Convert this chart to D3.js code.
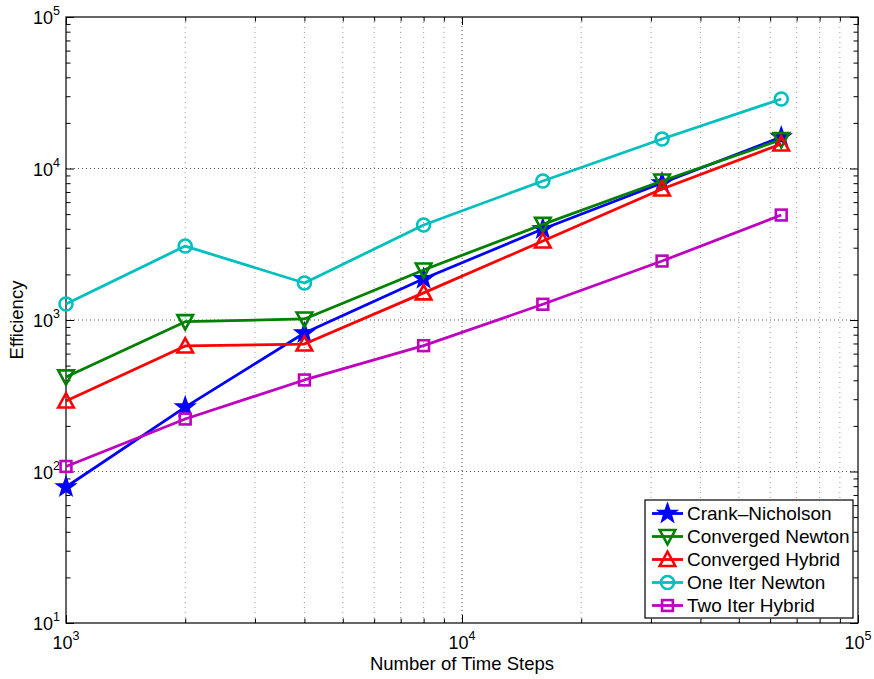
<!DOCTYPE html>
<html>
<head>
<meta charset="utf-8">
<script src="https://cdn.jsdelivr.net/npm/d3@7"></script>
<style>
  html, body { margin: 0; padding: 0; background: #fff; }
  svg { display: block; }
  text { font-family: "Liberation Sans", Arial, Helvetica, sans-serif; fill: #000; }
</style>
</head>
<body>
<svg id="chart" width="874" height="679"></svg>
<script>
// ---------- data ----------
const timeSteps = [1000, 2000, 4000, 8000, 16000, 32000, 64000];
const crankNicholson   = [79, 266, 820, 1870, 3990, 8020, 16100];
const convergedNewton  = [421, 975, 1016, 2140, 4280, 8270, 15500];
const convergedHybrid  = [292, 674, 694, 1510, 3320, 7320, 14500];
const oneIterNewton    = [1276, 3076, 1754, 4236, 8270, 15660, 28750];
const twoIterHybrid    = [108, 222, 402, 677, 1270, 2450, 4930];
const seriesNames = ["Crank\u2013Nicholson", "Converged Newton", "Converged Hybrid", "One Iter Newton", "Two Iter Hybrid"];
const xTickExponents = [3, 4, 5];
const yTickExponents = [1, 2, 3, 4, 5];
const xLabel = "Number of Time Steps";
const yLabel = "Efficiency";

// ---------- styles ----------
const colors = ["#0000ff", "#008000", "#ff0000", "#00bfbf", "#bf00bf"];
const markers = ["star", "down", "up", "circle", "square"];
const seriesValues = [crankNicholson, convergedNewton, convergedHybrid, oneIterNewton, twoIterHybrid];

const svg = d3.select("#chart");
const L = 66, R = 858, T = 17, B = 623;

const x = d3.scaleLog().domain([1e3, 1e5]).range([L, R]);
const y = d3.scaleLog().domain([10, 1e5]).range([B, T]);

// minor tick values
const xMinor = [], yMinor = [];
for (let e = 3; e < 5; e++) for (let k = 2; k <= 9; k++) xMinor.push(k * Math.pow(10, e));
for (let e = 1; e < 5; e++) for (let k = 2; k <= 9; k++) yMinor.push(k * Math.pow(10, e));
const xMajor = xTickExponents.map(e => Math.pow(10, e));
const yMajor = yTickExponents.map(e => Math.pow(10, e));

// ---------- grid ----------
const grid = svg.append("g");
grid.selectAll("line.xminor").data(xMinor).enter().append("line")
  .attr("x1", d => x(d)).attr("x2", d => x(d)).attr("y1", B).attr("y2", T)
  .attr("stroke", "#9a9a9a").attr("stroke-width", 1).attr("stroke-dasharray", "1,4");
grid.selectAll("line.xmajor").data(xMajor.slice(1, -1)).enter().append("line")
  .attr("x1", d => x(d)).attr("x2", d => x(d)).attr("y1", B).attr("y2", T)
  .attr("stroke", "#444").attr("stroke-width", 1).attr("stroke-dasharray", "1,3");
grid.selectAll("line.ymajor").data(yMajor.slice(1, -1)).enter().append("line")
  .attr("x1", L).attr("x2", R).attr("y1", d => y(d)).attr("y2", d => y(d))
  .attr("stroke", "#555").attr("stroke-width", 1).attr("stroke-dasharray", "1,3");

// ---------- axes (ticks inward on all four sides) ----------
function addAxis(gen, tx, ty) {
  const g = svg.append("g").attr("transform", `translate(${tx},${ty})`).call(gen);
  g.select(".domain").remove();
  g.selectAll("text").remove();
  g.selectAll("line").attr("stroke", "#000").attr("stroke-width", 1);
  return g;
}
addAxis(d3.axisBottom(x).tickValues(xMajor).tickSize(-8), 0, B);
addAxis(d3.axisBottom(x).tickValues(xMinor).tickSize(-4.5), 0, B);
addAxis(d3.axisTop(x).tickValues(xMajor).tickSize(-8), 0, T);
addAxis(d3.axisTop(x).tickValues(xMinor).tickSize(-4.5), 0, T);
addAxis(d3.axisLeft(y).tickValues(yMajor).tickSize(-8), L, 0);
addAxis(d3.axisLeft(y).tickValues(yMinor).tickSize(-4.5), L, 0);
addAxis(d3.axisRight(y).tickValues(yMajor).tickSize(-8), R, 0);
addAxis(d3.axisRight(y).tickValues(yMinor).tickSize(-4.5), R, 0);

svg.append("rect").attr("x", L).attr("y", T).attr("width", R - L).attr("height", B - T)
  .attr("fill", "none").attr("stroke", "#000").attr("stroke-width", 1.2);

// ---------- tick labels ----------
function powLabel(sel) {
  sel.append("tspan").attr("font-size", 18).text("10");
  sel.append("tspan").attr("font-size", 12.5).attr("dy", -9).text(d => d);
}
svg.append("g").selectAll("text").data(xTickExponents).enter().append("text")
  .attr("x", d => x(Math.pow(10, d))).attr("y", 649).attr("text-anchor", "middle")
  .call(powLabel);
svg.append("g").selectAll("text").data(yTickExponents).enter().append("text")
  .attr("x", 60).attr("y", d => y(Math.pow(10, d)) + 7).attr("text-anchor", "end")
  .call(powLabel);

// axis titles
svg.append("text").attr("x", 462).attr("y", 670).attr("text-anchor", "middle")
  .attr("font-size", 18.5).text(xLabel);
svg.append("text").attr("transform", "translate(23,320) rotate(-90)").attr("text-anchor", "middle")
  .attr("font-size", 18.5).text(yLabel);

// ---------- markers ----------
function starPath(R0) {
  const r0 = R0 * 0.4;
  const pts = [];
  for (let i = 0; i < 10; i++) {
    const a = -Math.PI / 2 + i * Math.PI / 5;
    const rr = i % 2 === 0 ? R0 : r0;
    pts.push([rr * Math.cos(a), rr * Math.sin(a)]);
  }
  return "M" + pts.map(p => p.join(",")).join("L") + "Z";
}
function drawMarker(g, type, color) {
  if (type === "star") {
    g.append("path").attr("d", starPath(10)).attr("fill", color).attr("stroke", color).attr("stroke-width", 1.5);
  } else if (type === "down") {
    g.append("path").attr("d", "M-7.8,-6.5L7.8,-6.5L0,7.8Z").attr("fill", "none").attr("stroke", color).attr("stroke-width", 2.6);
  } else if (type === "up") {
    g.append("path").attr("d", "M-7.8,6.5L7.8,6.5L0,-7.8Z").attr("fill", "none").attr("stroke", color).attr("stroke-width", 2.6);
  } else if (type === "circle") {
    g.append("circle").attr("r", 6.5).attr("fill", "none").attr("stroke", color).attr("stroke-width", 2.6);
  } else if (type === "square") {
    g.append("rect").attr("x", -5.4).attr("y", -5.4).attr("width", 10.8).attr("height", 10.8)
      .attr("fill", "none").attr("stroke", color).attr("stroke-width", 2.6);
  }
}

// ---------- series ----------
const line = d3.line().x(d => x(d[0])).y(d => y(d[1]));
seriesValues.forEach((vals, i) => {
  const pts = timeSteps.map((t, j) => [t, vals[j]]);
  const g = svg.append("g");
  g.append("path").datum(pts).attr("d", line).attr("fill", "none")
    .attr("stroke", colors[i]).attr("stroke-width", 2.8).attr("stroke-linejoin", "round");
  pts.forEach(p => {
    const mg = g.append("g").attr("transform", `translate(${x(p[0])},${y(p[1])})`);
    drawMarker(mg, markers[i], colors[i]);
  });
});

// ---------- legend ----------
const lg = svg.append("g");
lg.append("rect").attr("x", 645).attr("y", 500).attr("width", 208).attr("height", 118)
  .attr("fill", "#fff").attr("stroke", "#000").attr("stroke-width", 1.2);
seriesNames.forEach((name, i) => {
  const yy = 513.5 + i * 23;
  lg.append("line").attr("x1", 652).attr("x2", 683).attr("y1", yy).attr("y2", yy)
    .attr("stroke", colors[i]).attr("stroke-width", 2.8);
  const mg = lg.append("g").attr("transform", `translate(667.5,${yy})`);
  drawMarker(mg, markers[i], colors[i]);
  lg.append("text").attr("x", 687).attr("y", yy + 6.5).attr("font-size", 19).text(name);
});
</script>
</body>
</html>
